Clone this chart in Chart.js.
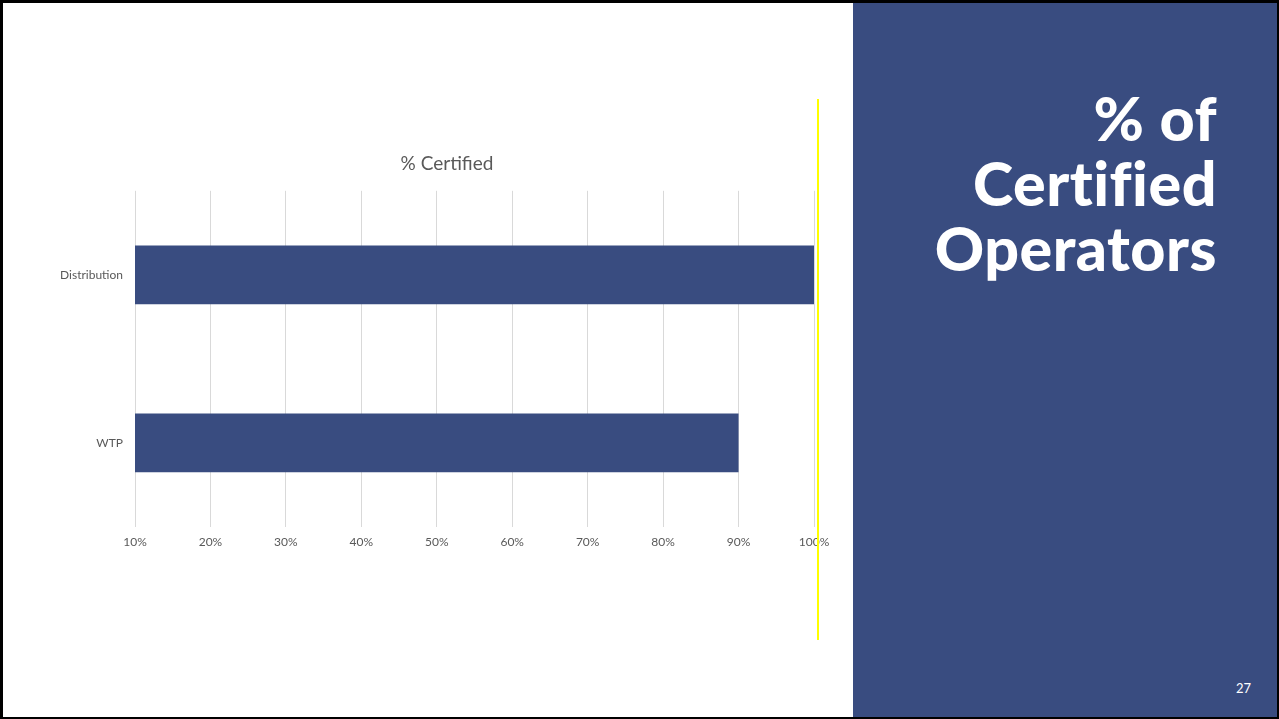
<!DOCTYPE html>
<html>
<head>
<meta charset="utf-8">
<script src="https://cdn.jsdelivr.net/npm/chart.js@4.4.1/dist/chart.umd.min.js"></script>
<style>
  html, body { margin:0; padding:0; background:#fff; }
  #slide { position:absolute; left:0; top:0; width:1279px; height:719px; box-sizing:border-box;
           border-top:3px solid #000; border-left:3px solid #000; border-bottom:2px solid #000; border-right:2px solid #000;
           overflow:hidden; background:#fff; }
  #panel { position:absolute; left:850px; top:0; right:0; bottom:0; background:#394C80; }
  #heading { position:absolute; right:60px; top:82px; color:#fff; font-family:Lato, "Open Sans", sans-serif;
             font-weight:900; font-size:61px; line-height:65px; text-align:right; letter-spacing:0.5px; }
  #pageno { position:absolute; left:1233px; top:677px; color:#fff; font-family:Lato, sans-serif; font-size:13px; }
  #yellow { position:absolute; left:814px; top:96px; width:2px; height:541px; background:#FFFF00; z-index:2; }
  #wrap { position:absolute; left:40px; top:137px; width:808px; height:420px; }
</style>
</head>
<body>
<div id="slide">
  <div id="wrap"><canvas id="c"></canvas></div>
  <div id="yellow"></div>
  <div id="panel">
    <div id="heading">% of<br>Certified<br>Operators</div>
  </div>
  <div id="pageno">27</div>
</div>
<script>
const categories = ["Distribution", "WTP"];
const certifiedPct = [100, 90];
const axisMin = 10;
const axisMax = 100;
const chartTitle = "% Certified";

const font = "Lato, 'Open Sans', sans-serif";
new Chart(document.getElementById('c'), {
  type: 'bar',
  data: {
    labels: categories,
    datasets: [{
      label: chartTitle,
      data: certifiedPct,
      backgroundColor: '#394C80',
      borderWidth: 0,
      categoryPercentage: 0.7,
      barPercentage: 0.5
    }]
  },
  options: {
    indexAxis: 'y',
    responsive: true,
    maintainAspectRatio: false,
    animation: false,
    layout: { padding: 0 },
    plugins: {
      legend: { display: false },
      tooltip: { enabled: false },
      title: {
        display: true,
        text: chartTitle,
        color: '#595959',
        font: { family: font, size: 19, weight: 'normal' },
        padding: { top: 12, bottom: 16 }
      }
    },
    scales: {
      x: {
        min: axisMin, max: axisMax,
        ticks: { stepSize: 10, color: '#595959', font: { family: font, size: 12 },
                 callback: v => v + '%', padding: 8, maxRotation: 0 },
        grid: { color: '#d9d9d9', drawTicks: false, lineWidth: 1 },
        border: { display: false },
        afterFit: s => { s.height = 33; }
      },
      y: {
        ticks: { color: '#595959', font: { family: font, size: 12 }, padding: 12 },
        grid: { display: false, drawTicks: false },
        border: { display: false },
        afterFit: s => { s.width = 92; }
      },
      yRight: {
        type: 'category',
        position: 'right',
        display: true,
        ticks: { display: false },
        grid: { display: false, drawTicks: false },
        border: { display: false },
        afterFit: s => { s.width = 37; }
      }
    }
  }
});
</script>
</body>
</html>
